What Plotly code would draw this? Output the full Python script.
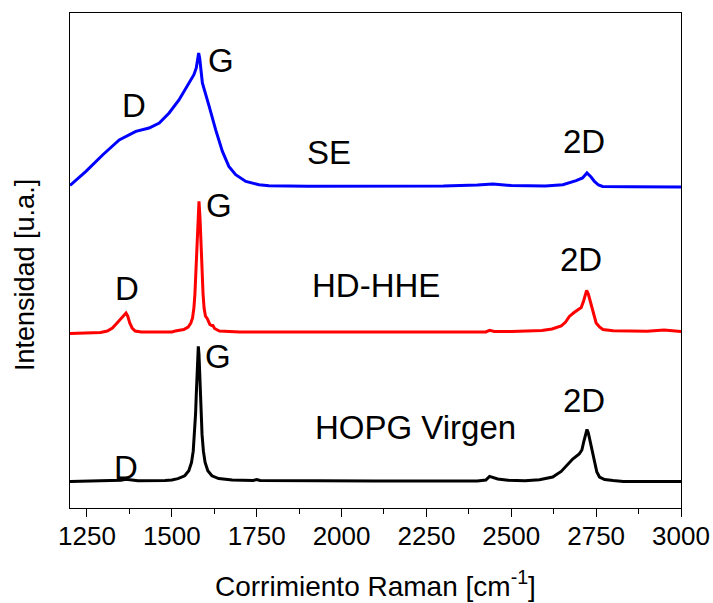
import plotly.graph_objects as go

# ---------------- data (intensities in arbitrary offset units) ----------------
hopg_x = [1200, 1330, 1350, 1365, 1380, 1400, 1480, 1500, 1518, 1538, 1550, 1558, 1563, 1567, 1570,
          1572, 1574, 1576, 1578, 1580, 1582, 1584, 1586, 1589, 1593, 1598, 1606, 1618, 1638, 1678,
          1740, 1750, 1760, 1900, 2100, 2400, 2425, 2436, 2445, 2460, 2490, 2540, 2583, 2622, 2647,
          2666, 2681, 2700, 2708, 2714, 2719, 2723, 2727, 2732, 2738, 2745, 2752, 2760, 2775, 2800,
          2830, 3000]
hopg_y = [26.5, 27.0, 27.8, 28.8, 27.8, 27.2, 27.5, 28.0, 29.4, 32.2, 37.2, 45.6, 56.8, 73.6, 94.3,
          113.1, 134.7, 153.7, 161.6, 153.7, 134.7, 113.1, 94.3, 73.6, 56.8, 45.6, 37.2, 32.2, 29.4, 27.9,
          27.5, 28.5, 27.5, 27.0, 27.0, 27.0, 28.0, 31.6, 30.5, 29.0, 27.8, 27.3, 28.3, 31.0, 36.6,
          44.0, 49.0, 54.0, 58.0, 67.0, 75.0, 78.5, 75.0, 67.0, 56.0, 45.0, 36.0, 31.0, 28.5, 27.5,
          26.6, 26.6]

hhe_x = [1200, 1290, 1310, 1325, 1340, 1352, 1360, 1365, 1370, 1376, 1383, 1392, 1410, 1500, 1510,
         1525, 1535, 1548, 1556, 1561, 1565, 1568, 1571, 1574, 1577, 1580, 1583, 1586, 1589, 1592,
         1595, 1599, 1605, 1612, 1617, 1621, 1626, 1640, 1700, 1750, 1760, 1900, 2100, 2400, 2425,
         2436, 2450, 2500, 2590, 2620, 2647, 2660, 2671, 2685, 2697, 2706, 2713, 2718, 2722, 2727,
         2735, 2743, 2750, 2760, 2770, 2800, 2858, 2900, 2950, 3000]
hhe_y = [174.5, 175.6, 177.0, 180.0, 185.5, 190.5, 194.0, 195.0, 192.0, 185.0, 180.0, 177.0, 176.0, 176.0, 177.0,
         177.8, 178.5, 181.0, 185.0, 190.0, 200.0, 214.0, 235.0, 262.0, 290.0, 306.6, 290.0, 262.0, 235.0, 214.0,
         200.0, 192.0, 189.0, 183.5, 182.5, 182.5, 179.5, 177.0, 176.0, 176.5, 176.0, 176.0, 176.0, 175.5, 176.0,
         177.6, 176.5, 176.5, 177.5, 179.0, 182.0, 186.0, 191.6, 195.5, 198.0, 200.5, 207.0, 214.0, 217.6, 214.0,
         203.0, 192.0, 185.0, 181.0, 178.5, 177.3, 176.6, 176.8, 178.0, 176.6]

se_x = [1200, 1247, 1296, 1345, 1394, 1433, 1463, 1492, 1521, 1546, 1565, 1572, 1576, 1579, 1582,
        1585, 1590, 1610, 1629, 1649, 1668, 1688, 1718, 1757, 1786, 1900, 2100, 2300, 2400, 2446,
        2500, 2600, 2652, 2675, 2691, 2710, 2723, 2735, 2745, 2757, 2769, 2850, 3000]
se_y = [322.5, 336.6, 353.0, 368.0, 376.6, 380.0, 385.0, 395.0, 408.0, 421.6, 433.3, 440.0, 450.0, 455.0, 450.0,
        440.0, 425.0, 401.6, 378.3, 356.6, 341.6, 333.3, 326.6, 323.3, 322.3, 321.8, 321.8, 322.0, 323.0, 324.0,
        322.5, 322.0, 323.3, 325.5, 327.3, 330.0, 335.0, 331.0, 326.6, 323.0, 321.6, 321.3, 321.0]

series_names = ["HOPG Virgen", "HD-HHE", "SE"]
series_colors = ["#000000", "#FF0000", "#0000FF"]

# peak labels: (text, x, y)
label_text = ["D", "G", "2D", "HOPG Virgen",
              "D", "G", "2D", "HD-HHE",
              "D", "G", "2D", "SE"]
label_x = [1366, 1636, 2713, 2217,
           1367, 1638, 2706, 2101,
           1389, 1645, 2713, 1963]
label_y = [40.8, 152, 107.6, 80.8,
           219.3, 302.3, 248.3, 223,
           402.3, 447.3, 366.3, 356]

x_title = "Corrimiento Raman [cm<sup>-1</sup>]"
y_title = "Intensidad [u.a.]"

# ---------------- figure ----------------
FONT = "Liberation Sans, Arial, sans-serif"
fig = go.Figure()
for xs, ys, name, col in [(hopg_x, hopg_y, series_names[0], series_colors[0]),
                          (hhe_x, hhe_y, series_names[1], series_colors[1]),
                          (se_x, se_y, series_names[2], series_colors[2])]:
    fig.add_trace(go.Scatter(x=xs, y=ys, mode="lines", name=name,
                             line=dict(color=col, width=3)))

for t, x, y in zip(label_text, label_x, label_y):
    fig.add_annotation(x=x, y=y, xref="x", yref="y", text=t, showarrow=False,
                       font=dict(family=FONT, size=33, color="black"),
                       xanchor="center", yanchor="middle")

L, R, T, B = 70, 32, 13, 95
W, H = 713, 603
pw, ph = W - L - R, H - T - B
fig.add_annotation(x=0.5, y=(ph - (584 - T)) / ph, xref="paper", yref="paper",
                   text=x_title, showarrow=False, xanchor="center", yanchor="middle",
                   font=dict(family=FONT, size=28, color="black"))
fig.add_annotation(x=(25 - L) / pw, y=(ph - (275 - T)) / ph, xref="paper", yref="paper",
                   text=y_title, showarrow=False, xanchor="center", yanchor="middle",
                   textangle=-90, font=dict(family=FONT, size=27, color="black"))

fig.update_layout(
    template="none",
    width=W, height=H, margin=dict(l=L, r=R, t=T, b=B, autoexpand=False),
    paper_bgcolor="white", plot_bgcolor="white", showlegend=False,
    xaxis=dict(range=[1200, 3000], tick0=0, dtick=250, ticks="outside", ticklen=8,
               tickwidth=1.3, tickcolor="black", showline=True, linecolor="black",
               linewidth=1.3, mirror=True, showgrid=False, zeroline=False,
               automargin=False, ticklabelstandoff=-3,
               tickfont=dict(family=FONT, size=26, color="black"),
               minor=dict(ticks="outside", ticklen=5, tickwidth=1.3, tickcolor="black",
                          tick0=0, dtick=125, showgrid=False)),
    yaxis=dict(range=[0, 495], showticklabels=False, ticks="", showline=True,
               linecolor="black", linewidth=1.3, mirror=True, showgrid=False,
               zeroline=False, automargin=False),
)

fig.write_html("out.html")
